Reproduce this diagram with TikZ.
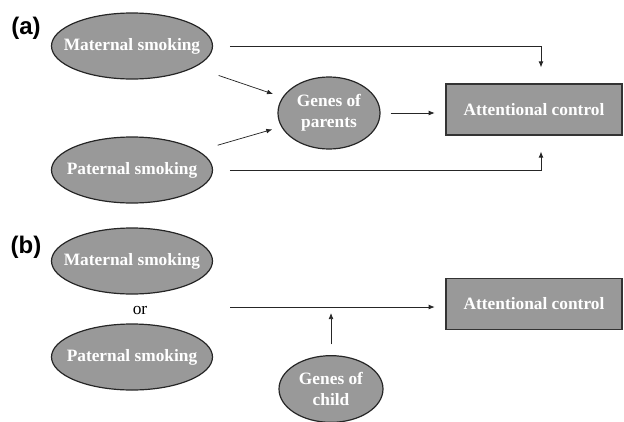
\documentclass[tikz,border=0pt]{standalone}
\usepackage{fontspec}
\setmainfont{Liberation Serif}
\newfontfamily\panelfont{Liberation Sans}
\usetikzlibrary{shapes.geometric}
\usetikzlibrary{arrows.meta}
\usetikzlibrary{positioning}

\newcommand{\boxfont}{\fontsize{13}{16}\selectfont\bfseries}
\tikzset{
  oval/.style={ellipse,draw=black!85,line width=0.9pt,fill=black!40,text=white,font=\boxfont,
    minimum width=120.75pt,minimum height=49.5pt,inner xsep=-9pt,inner ysep=0pt,align=center},
  gene/.style={oval,minimum width=76.5pt,minimum height=54pt,inner xsep=0pt},
  outcome/.style={rectangle,draw=black!80,line width=0.9pt,fill=black!40,text=white,font=\boxfont,
    minimum width=132pt,minimum height=38.25pt,inner sep=0pt},
  link/.style={-{Latex[length=4.5pt,width=3.6pt]},line width=0.55pt,draw=black!85},
  panel/.style={font=\panelfont\fontsize{18}{18}\selectfont\bfseries}
}

\begin{document}
\begin{tikzpicture}[x=0.75pt,y=-0.75pt]
\useasboundingbox (0,0) rectangle (624,421);

% panel (a)
\node[panel] (labA) at (26,28) {(a)};
\node[oval] (matA) at (132,46) {Maternal smoking};
\node[oval] (patA) at (132,170) {Paternal smoking};
\node[gene] (genA) at (329,113) {Genes of\\parents};
\node[outcome] (ctlA) at (534,109.5) {Attentional control};

\draw[link,shorten <=12.5pt,shorten >=12pt] (matA.east) -| ([xshift=5.25pt]ctlA.north);
\draw[link,shorten <=12.5pt,shorten >=12pt] (patA.east) -| ([xshift=5.25pt]ctlA.south);
\draw[link,shorten <=19pt,shorten >=7.5pt] (matA) -- (genA);
\draw[link,shorten <=15pt,shorten >=7pt] (patA) -- (genA);
\draw[link,shorten <=7.5pt,shorten >=8pt] (genA.east) -- (genA.east -| ctlA.west);

% panel (b)
\node[panel] (labB) at (26,247) {(b)};
\node[oval] (matB) at (132,261) {Maternal smoking};
\node[font=\fontsize{13}{16}\selectfont] (orB) at (140,310) {or};
\node[oval] (patB) at (132,357) {Paternal smoking};
\node[gene,minimum width=78pt,minimum height=50pt] (genB) at (331,389) {Genes of\\child};
\node[outcome] (ctlB) at (534,304) {Attentional control};
\coordinate (srcB) at (230,307);

\draw[link,shorten >=8pt] (srcB) -- (srcB -| ctlB.west);
\draw[link,shorten <=8pt,shorten >=4.5pt] (genB.north) -- (genB.north |- srcB);

\end{tikzpicture}
\end{document}
